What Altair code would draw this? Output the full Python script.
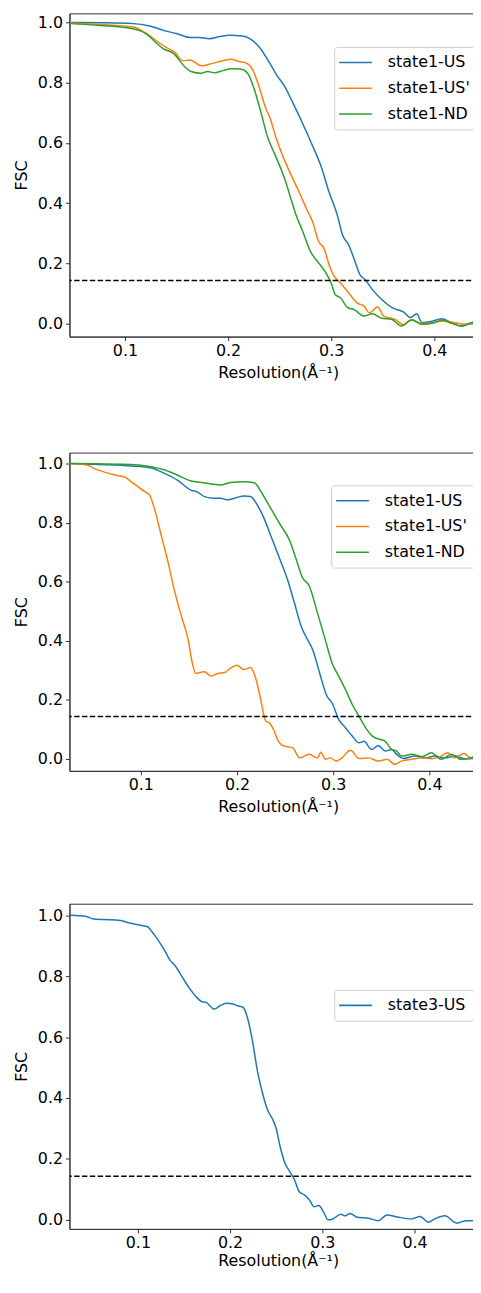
import altair as alt
import pandas as pd

FONT = "DejaVu Sans"
X_TITLE = "Resolution(Å⁻¹)"
Y_TITLE = "FSC"
THRESHOLD = 0.143
X_TICKS = [0.1, 0.2, 0.3, 0.4]
Y_TICKS = [0.0, 0.2, 0.4, 0.6, 0.8, 1.0]
COLORS = ["#1f77b4", "#ff7f0e", "#2ca02c"]

# ---------------- Panel 1 ----------------
p1_names = ["state1-US", "state1-US'", "state1-ND"]
p1_us_x = [0.047, 0.076, 0.108, 0.124, 0.140, 0.150, 0.163, 0.172, 0.182, 0.192, 0.201, 0.214, 0.221, 0.230,
           0.240, 0.247, 0.255, 0.263, 0.272, 0.282, 0.290, 0.298, 0.306, 0.311, 0.317, 0.322, 0.328, 0.333,
           0.340, 0.349, 0.359, 0.370, 0.377, 0.383, 0.388, 0.397, 0.407, 0.417, 0.426, 0.436, 0.443]
p1_us_y = [1.000, 0.999, 0.996, 0.988, 0.971, 0.963, 0.950, 0.950, 0.946, 0.953, 0.957, 0.955, 0.946, 0.919,
           0.867, 0.826, 0.787, 0.732, 0.667, 0.590, 0.524, 0.436, 0.360, 0.294, 0.261, 0.217, 0.162, 0.146,
           0.113, 0.080, 0.053, 0.039, 0.020, 0.033, 0.003, 0.007, 0.016, 0.003, -0.008, 0.000, -0.008]
p1_usp_x = [0.047, 0.076, 0.108, 0.121, 0.132, 0.140, 0.148, 0.156, 0.163, 0.174, 0.185, 0.195, 0.203, 0.211,
            0.217, 0.224, 0.230, 0.237, 0.240, 0.247, 0.253, 0.260, 0.269, 0.276, 0.282, 0.288, 0.293, 0.298,
            0.303, 0.309, 0.317, 0.325, 0.332, 0.337, 0.345, 0.351, 0.362, 0.370, 0.378, 0.388, 0.397, 0.410,
            0.420, 0.429, 0.437, 0.443]
p1_usp_y = [0.998, 0.993, 0.985, 0.963, 0.935, 0.917, 0.902, 0.873, 0.875, 0.856, 0.864, 0.873, 0.878, 0.870,
            0.866, 0.842, 0.787, 0.711, 0.689, 0.612, 0.557, 0.502, 0.436, 0.382, 0.338, 0.272, 0.250, 0.195,
            0.157, 0.135, 0.102, 0.069, 0.058, 0.036, 0.055, 0.025, 0.014, -0.004, 0.014, 0.000, 0.003, 0.009,
            0.003, -0.002, 0.003, 0.009]
p1_nd_x = [0.047, 0.076, 0.108, 0.121, 0.131, 0.137, 0.147, 0.158, 0.164, 0.174, 0.180, 0.187, 0.195, 0.203,
           0.212, 0.219, 0.225, 0.232, 0.238, 0.246, 0.255, 0.260, 0.266, 0.272, 0.280, 0.288, 0.295, 0.300,
           0.304, 0.309, 0.316, 0.322, 0.332, 0.340, 0.349, 0.359, 0.368, 0.378, 0.388, 0.400, 0.407, 0.417,
           0.426, 0.436, 0.441]
p1_nd_y = [0.996, 0.990, 0.979, 0.961, 0.930, 0.913, 0.897, 0.853, 0.837, 0.831, 0.837, 0.833, 0.840, 0.846,
           0.845, 0.831, 0.782, 0.700, 0.623, 0.557, 0.480, 0.425, 0.360, 0.310, 0.239, 0.201, 0.168, 0.135,
           0.096, 0.086, 0.053, 0.047, 0.025, 0.033, 0.018, 0.014, -0.008, 0.012, -0.002, 0.003, 0.012, 0.001,
           -0.008, 0.003, 0.011]

# ---------------- Panel 2 ----------------
p2_names = ["state1-US", "state1-US'", "state1-ND"]
p2_us_x = [0.025, 0.056, 0.090, 0.111, 0.125, 0.138, 0.152, 0.159, 0.166, 0.176, 0.183, 0.190, 0.200, 0.207,
           0.214, 0.221, 0.228, 0.234, 0.244, 0.253, 0.260, 0.267, 0.272, 0.279, 0.286, 0.293, 0.299, 0.306,
           0.313, 0.320, 0.327, 0.332, 0.340, 0.347, 0.354, 0.361, 0.366, 0.373, 0.385, 0.396, 0.406, 0.416,
           0.427, 0.437, 0.452]
p2_us_y = [1.000, 0.997, 0.992, 0.985, 0.966, 0.944, 0.910, 0.903, 0.888, 0.882, 0.882, 0.877, 0.885, 0.890,
           0.888, 0.860, 0.815, 0.765, 0.681, 0.602, 0.524, 0.446, 0.412, 0.367, 0.289, 0.216, 0.188, 0.132,
           0.104, 0.076, 0.054, 0.059, 0.031, 0.045, 0.026, 0.031, 0.015, 0.001, 0.009, 0.003, 0.009, 0.003,
           0.009, 0.000, 0.003]
p2_usp_x = [0.025, 0.042, 0.053, 0.063, 0.073, 0.084, 0.090, 0.097, 0.104, 0.109, 0.114, 0.121, 0.128, 0.135,
            0.142, 0.149, 0.154, 0.157, 0.166, 0.173, 0.180, 0.187, 0.193, 0.200, 0.207, 0.214, 0.219, 0.224,
            0.230, 0.233, 0.238, 0.243, 0.249, 0.258, 0.265, 0.275, 0.284, 0.287, 0.292, 0.297, 0.303, 0.309,
            0.318, 0.327, 0.337, 0.347, 0.356, 0.364, 0.371, 0.382, 0.392, 0.402, 0.412, 0.419, 0.426, 0.436,
            0.443, 0.452]
p2_usp_y = [1.000, 0.997, 0.981, 0.970, 0.961, 0.953, 0.938, 0.922, 0.905, 0.894, 0.849, 0.759, 0.670, 0.569,
            0.485, 0.407, 0.317, 0.289, 0.295, 0.280, 0.289, 0.292, 0.306, 0.317, 0.302, 0.309, 0.278, 0.211,
            0.127, 0.123, 0.099, 0.059, 0.043, 0.037, 0.003, 0.015, 0.003, 0.022, -0.002, 0.003, -0.008, 0.003,
            0.029, 0.001, 0.003, -0.008, -0.002, -0.019, -0.008, -0.002, 0.003, 0.000, 0.009, 0.020, 0.003, 0.018,
            0.003, 0.003]
p2_nd_x = [0.025, 0.056, 0.090, 0.111, 0.125, 0.138, 0.152, 0.163, 0.173, 0.183, 0.193, 0.207, 0.218, 0.224,
           0.231, 0.238, 0.244, 0.255, 0.261, 0.268, 0.275, 0.284, 0.291, 0.299, 0.306, 0.313, 0.320, 0.327,
           0.334, 0.341, 0.349, 0.354, 0.361, 0.366, 0.371, 0.382, 0.392, 0.402, 0.412, 0.423, 0.433, 0.443,
           0.452]
p2_nd_y = [1.000, 0.999, 0.997, 0.989, 0.978, 0.961, 0.941, 0.936, 0.931, 0.927, 0.936, 0.938, 0.935, 0.910,
           0.871, 0.832, 0.798, 0.737, 0.681, 0.614, 0.586, 0.490, 0.412, 0.323, 0.278, 0.233, 0.183, 0.143,
           0.104, 0.076, 0.065, 0.059, 0.031, 0.026, 0.009, 0.015, 0.007, 0.020, -0.002, 0.015, -0.002, 0.003,
           0.015]

# ---------------- Panel 3 ----------------
p3_names = ["state3-US"]
p3_us_x = [0.027, 0.043, 0.052, 0.063, 0.081, 0.088, 0.095, 0.103, 0.110, 0.117, 0.128, 0.135, 0.140, 0.149,
           0.156, 0.163, 0.169, 0.174, 0.183, 0.189, 0.196, 0.203, 0.208, 0.214, 0.219, 0.224, 0.230, 0.235,
           0.241, 0.246, 0.250, 0.254, 0.259, 0.265, 0.270, 0.275, 0.281, 0.286, 0.291, 0.296, 0.302, 0.306,
           0.311, 0.320, 0.325, 0.330, 0.338, 0.350, 0.361, 0.370, 0.383, 0.397, 0.406, 0.415, 0.422, 0.433,
           0.446, 0.456, 0.465, 0.470]
p3_us_y = [1.000, 0.997, 0.988, 0.986, 0.983, 0.977, 0.972, 0.967, 0.963, 0.939, 0.890, 0.852, 0.836, 0.793,
           0.760, 0.733, 0.717, 0.714, 0.692, 0.703, 0.711, 0.709, 0.703, 0.698, 0.662, 0.592, 0.483, 0.418,
           0.358, 0.331, 0.300, 0.244, 0.190, 0.157, 0.130, 0.092, 0.081, 0.065, 0.043, 0.047, 0.022, 0.000,
           0.002, 0.018, 0.013, 0.021, 0.008, 0.005, -0.003, 0.016, 0.008, 0.003, 0.011, -0.008, 0.003, 0.013,
           -0.011, -0.003, -0.003, 0.003]


def make_df(names, xs_list, ys_list):
    rows = []
    for name, xs, ys in zip(names, xs_list, ys_list):
        for i, (x, y) in enumerate(zip(xs, ys)):
            rows.append({"series": name, "res": x, "fsc": y, "i": i})
    return pd.DataFrame(rows)


def panel(df, names, colors, xdom, ydom, w, h, lx, ly, x_title_pad=6):
    x = alt.X("res:Q", scale=alt.Scale(domain=xdom, nice=False, zero=False),
              axis=alt.Axis(values=X_TICKS, format=".1f", title=X_TITLE, grid=False,
                            titlePadding=x_title_pad))
    y = alt.Y("fsc:Q", scale=alt.Scale(domain=ydom, nice=False, zero=False),
              axis=alt.Axis(values=Y_TICKS, format=".1f", title=Y_TITLE, grid=False))
    lines = alt.Chart(df).mark_line(strokeWidth=1.5, clip=True, interpolate="monotone").encode(
        x=x,
        y=y,
        order="i:Q",
        color=alt.Color(
            "series:N",
            scale=alt.Scale(domain=names, range=colors),
            sort=names,
            legend=alt.Legend(orient="none", legendX=lx, legendY=ly, title=None),
        ),
    )
    thr = alt.Chart(pd.DataFrame({"fsc": [THRESHOLD]})).mark_rule(
        color="black", strokeDash=[5.5, 2.4], strokeWidth=1.5
    ).encode(y=alt.Y("fsc:Q"))
    return alt.layer(lines, thr).properties(width=w, height=h)


W = 421
df1 = make_df(p1_names, [p1_us_x, p1_usp_x, p1_nd_x], [p1_us_y, p1_usp_y, p1_nd_y])
df2 = make_df(p2_names, [p2_us_x, p2_usp_x, p2_nd_x], [p2_us_y, p2_usp_y, p2_nd_y])
df3 = make_df(p3_names, [p3_us_x], [p3_us_y])

c1 = panel(df1, p1_names, COLORS, [0.0462, 0.451], [-0.043, 1.030], W, 326, 267, 34)
c2 = panel(df2, p2_names, COLORS, [0.0258, 0.4598], [-0.041, 1.037], W, 321, 264, 33)
c3 = panel(df3, p3_names, COLORS[:1], [0.0258, 0.4785], [-0.030, 1.038], W, 328, 267, 87,
           x_title_pad=2)

inner = alt.vconcat(c1, c2, spacing=71).resolve_scale(
    color="independent", x="independent", y="independent"
).resolve_legend(color="independent")

chart = alt.vconcat(inner, c3, spacing=88).resolve_scale(
    color="independent", x="independent", y="independent"
).resolve_legend(color="independent").configure(
    font=FONT,
    padding={"left": 5, "top": -1, "right": -16, "bottom": -6},
).configure_axis(
    labelFont=FONT, titleFont=FONT, labelFontSize=16, titleFontSize=16,
    labelColor="black", titleColor="black", titleFontWeight="normal",
    domainColor="#333333", tickColor="#333333", tickSize=4, domainWidth=1, tickWidth=1,
).configure_axisX(
    labelPadding=2,
).configure_axisY(
    labelPadding=3, titlePadding=8,
).configure_legend(
    labelFont=FONT, labelFontSize=16, labelColor="black",
    symbolType="M-3.3,0H3.3", symbolSize=100, symbolStrokeWidth=1.6,
    symbolOffset=6, labelOffset=24.5,
    padding=7.5, rowPadding=10,
    strokeColor="#cccccc", fillColor="white", cornerRadius=3,
).configure_view(
    stroke="#333333", strokeWidth=1,
)

chart.save("out.html", embed_options={"renderer": "svg", "actions": False})
